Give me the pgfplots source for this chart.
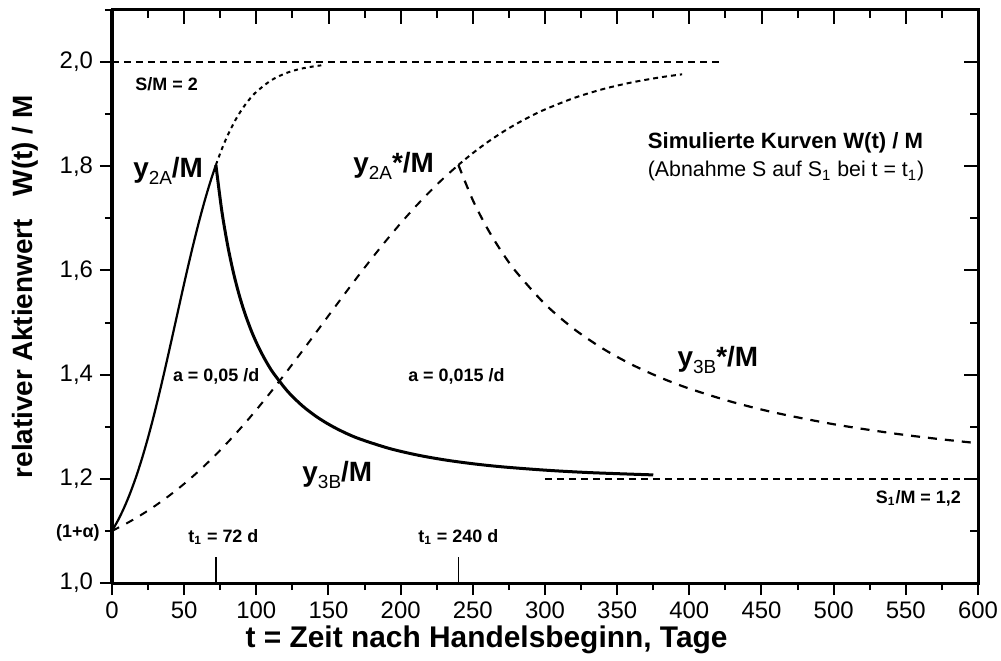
\documentclass[border=0pt]{standalone}
\usepackage{pgfplots}
\pgfplotsset{compat=1.18}
\usepackage{fontspec}
\setmainfont{Liberation Sans}
\newcommand\lblsm{\fontsize{9}{10}\selectfont\bfseries}
\newcommand\lblbig{\fontsize{14}{16}\selectfont\bfseries}
\newcommand\sub[1]{\raisebox{-3.5bp}{\fontsize{9.5}{10}\selectfont\mdseries #1}}
\begin{document}
\begin{tikzpicture}
\pgfplotsset{
  common/.style={
    width=433bp, height=286.5bp, scale only axis,
    xmin=0, xmax=600, ymin=1, ymax=2.1,
    xtick={0,50,...,600}, ytick={1,1.2,1.4,1.6,1.8,2},
    minor xtick={25,75,...,575}, minor ytick={1.1,1.3,1.5,1.7,1.9,2.1},
    axis line style={-, line width=1.5bp},
    major tick style={line width=1bp,black}, minor tick style={line width=1bp,black},
    major tick length=6bp, minor tick length=3.5bp,
    /pgf/number format/assume math mode=true,
    ticklabel style={font=\fontsize{12}{14}\selectfont},
  }
}
\begin{axis}[common, name=ax, axis x line*=bottom, axis y line*=left,
  tick align=outside,
  clip=false,
  yticklabel style={/pgf/number format/.cd, fixed, fixed zerofill, precision=1, use comma},
  xticklabel style={/pgf/number format/.cd, fixed, precision=0},
]
% reference lines
\addplot[black, line width=0.7bp, dash pattern=on 3.5bp off 2.5bp] coordinates {(0,2) (422,2)};
\addplot[black, line width=0.7bp, dash pattern=on 3.5bp off 2.5bp] coordinates {(300,1.2) (592,1.2)};
% t1 markers
\addplot[black, line width=0.8bp] coordinates {(72,1) (72,1.05)};
\addplot[black, line width=0.8bp] coordinates {(240,1) (240,1.05)};
% y2A rising (solid)
\addplot[black, line width=1.1bp, smooth] coordinates {
(0,1.1000) (4,1.1195) (8,1.1422) (12,1.1684) (16,1.1983) (20,1.2320) (24,1.2695)
(28,1.3106) (32,1.3550) (36,1.4020) (40,1.4509) (44,1.5007) (48,1.5505) (52,1.5994)
(56,1.6463) (60,1.6906) (64,1.7316) (68,1.7690) (72,1.8026)};
% y2A continuation (dotted)
\addplot[black, line width=1bp, dash pattern=on 2bp off 2bp, smooth] coordinates {
(72,1.8026) (76,1.8324) (80,1.8585) (85,1.8862) (90,1.9091) (95,1.9278) (100,1.9428)
(110,1.9645) (120,1.9782) (130,1.9867) (140,1.9919) (145,1.9937)};
% y3B decay (solid)
\addplot[black, line width=1.5bp, smooth] coordinates {
(72,1.8026) (76,1.7158) (80,1.6501) (84,1.5974) (88,1.5542) (92,1.5182) (97,1.4809)
(102,1.4501) (107,1.4242) (112,1.4022) (122,1.3669) (132,1.3399) (142,1.3187)
(152,1.3017) (162,1.2877) (172,1.2762) (192,1.2584) (212,1.2454) (232,1.2357)
(252,1.2283) (272,1.2226) (302,1.2163) (332,1.2118) (375,1.2075)};
% y2A* rising (dashed)
\addplot[black, line width=1bp, dash pattern=on 4bp off 4bp, smooth] coordinates {
(0,1.1000) (10,1.1143) (20,1.1304) (30,1.1484) (40,1.1684) (50,1.1904) (60,1.2146)
(70,1.2410) (80,1.2695) (90,1.3000) (100,1.3324) (110,1.3665) (120,1.4020)
(130,1.4385) (140,1.4757) (150,1.5132) (160,1.5505) (170,1.5873) (180,1.6231)
(190,1.6576) (200,1.6906) (210,1.7217) (220,1.7508) (230,1.7778) (240,1.8026)};
% y2A* continuation (dotted)
\addplot[black, line width=1bp, dash pattern=on 2.5bp off 2bp, smooth] coordinates {
(240,1.8026) (250,1.8253) (260,1.8459) (270,1.8645) (280,1.8811) (290,1.8959)
(300,1.9091) (320,1.9310) (340,1.9480) (360,1.9609) (380,1.9708) (395,1.9765)};
% y3B* decay (dashed)
\addplot[black, line width=1.1bp, dash pattern=on 4.5bp off 4bp, smooth] coordinates {
(240,1.8026) (250,1.7349) (260,1.6810) (270,1.6358) (280,1.5974) (300,1.5354)
(320,1.4878) (340,1.4501) (360,1.4195) (380,1.3943) (400,1.3732) (430,1.3473)
(460,1.3266) (500,1.3048) (540,1.2877) (570,1.2773) (600,1.2683)};
% labels
\node[anchor=base west, inner sep=0] at (axis cs:14.5,1.779) {\lblbig y\sub{2A}/M};
\node[anchor=base west, inner sep=0] at (axis cs:167,1.788) {\lblbig y\sub{2A}*/M};
\node[anchor=base west, inner sep=0] at (axis cs:391.6,1.415) {\lblbig y\sub{3B}*/M};
\node[anchor=base west, inner sep=0] at (axis cs:131.7,1.194) {\lblbig y\sub{3B}/M};
\node[anchor=west, inner sep=0] at (axis cs:16,1.958) {\lblsm S/M = 2};
\node[anchor=west, inner sep=0] at (axis cs:42,1.396) {\lblsm a = 0,05 /d};
\node[anchor=west, inner sep=0] at (axis cs:205,1.396) {\lblsm a = 0,015 /d};
\node[anchor=west, inner sep=0] at (axis cs:52.7,1.089) {\lblsm t\textsubscript{1} = 72 d};
\node[anchor=west, inner sep=0] at (axis cs:212,1.089) {\lblsm t\textsubscript{1} = 240 d};
\node[anchor=east, inner sep=0] at (axis cs:-8.3,1.096) {\lblsm (1+α)};
\node[anchor=west, inner sep=0] at (axis cs:529,1.163) {\lblsm S\textsubscript{1}/M = 1,2};
\node[anchor=west, inner sep=0] at (axis cs:371,1.846) {\fontsize{11.1}{13}\selectfont\bfseries Simulierte Kurven W(t) / M};
\node[anchor=west, inner sep=0] at (axis cs:371,1.79) {\fontsize{10.7}{13}\selectfont (Abnahme S auf S\textsubscript{1} bei t = t\textsubscript{1})};
\node[rotate=90, anchor=center, inner sep=0] at (rel axis cs:-0.1005,0.517) {\fontsize{14}{16}\selectfont\bfseries relativer Aktienwert\ \ \ W(t) / M};
\node[anchor=center, inner sep=0] at (rel axis cs:0.4325,-0.0995) {\fontsize{15}{17}\selectfont\bfseries t = Zeit nach Handelsbeginn, Tage};
\end{axis}
\begin{axis}[common, tick align=inside, tick pos=right, xticklabels={}, yticklabels={},
  major tick length=7bp, minor tick length=4bp]
\end{axis}
\pgfresetboundingbox
\path[use as bounding box] ([xshift=-56bp,yshift=-39bp]ax.south west) rectangle ([xshift=11.5bp,yshift=5bp]ax.north east);
\end{tikzpicture}
\end{document}
